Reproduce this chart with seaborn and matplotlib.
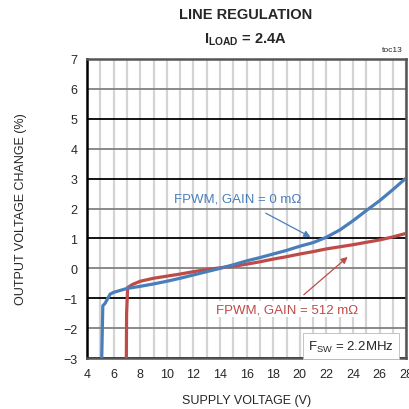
import numpy as np
import pandas as pd
import matplotlib
matplotlib.use("Agg")
import matplotlib.pyplot as plt
import seaborn as sns

# data
vin_gain0 = [5.1, 5.18, 5.35, 5.73, 6.0, 7.0, 8.0, 9.0, 10.0, 11.0, 12.0, 13.0, 14.0, 15.0, 16.0,
             17.0, 18.0, 19.0, 20.0, 21.0, 22.0, 23.0, 24.0, 25.0, 26.0, 27.0, 28.0]
dv_gain0 = [-3.0, -1.25, -1.17, -0.86, -0.80, -0.67, -0.60, -0.52, -0.43, -0.33, -0.22, -0.11, 0.0, 0.12, 0.25,
            0.36, 0.48, 0.60, 0.74, 0.86, 1.04, 1.28, 1.59, 1.93, 2.26, 2.63, 3.02]

vin_gain512 = [6.95, 6.97, 7.05, 7.4, 8.0, 9.0, 10.0, 11.0, 12.0, 13.0, 14.0, 15.0, 16.0, 17.0, 18.0,
               19.0, 20.0, 21.0, 22.0, 23.0, 24.0, 25.0, 26.0, 27.0, 28.0]
dv_gain512 = [-3.0, -1.5, -0.64, -0.54, -0.43, -0.33, -0.26, -0.19, -0.11, -0.04, 0.02, 0.07, 0.14, 0.22, 0.31,
              0.39, 0.48, 0.56, 0.65, 0.72, 0.79, 0.87, 0.95, 1.05, 1.17]

x_ticks = list(range(4, 29, 2))
y_ticks = list(range(-3, 8))

blue = "#4a7ebb"
red = "#be4b48"

sns.set_style("white")
plt.rcParams['font.family'] = ['Liberation Sans Narrow', 'Liberation Sans', 'DejaVu Sans']
plt.rcParams['mathtext.fontset'] = 'custom'
plt.rcParams['mathtext.rm'] = 'Liberation Sans'
plt.rcParams['mathtext.bf'] = 'Liberation Sans:bold'

df0 = pd.DataFrame({'vin': vin_gain0, 'dv': dv_gain0})
df1 = pd.DataFrame({'vin': vin_gain512, 'dv': dv_gain512})

fig = plt.figure(figsize=(4.09, 4.10), dpi=100)
ax = fig.add_axes([0.213, 0.124, 0.780, 0.730])

sns.lineplot(data=df0, x='vin', y='dv', sort=False, color=blue, lw=2.3, ax=ax, zorder=5)
sns.lineplot(data=df1, x='vin', y='dv', sort=False, color=red, lw=2.3, ax=ax, zorder=4)

ax.set_xlim(4, 28)
ax.set_ylim(-3, 7)
ax.set_xticks(x_ticks)
ax.set_xticks(range(4, 29), minor=True)
ax.set_yticks(y_ticks)

# grid: light vertical lines each volt, horizontal alternating gray/black
ax.grid(which='both', axis='x', color='#d4d4d4', lw=1.6)
ax.grid(which='major', axis='y', lw=1.3)
for val, gl in zip(y_ticks, ax.get_ygridlines()):
    gl.set_color('#808080' if val % 2 == 0 else '#000000')
ax.set_axisbelow(True)

for s in ax.spines.values():
    s.set_color('#555555')
    s.set_linewidth(1.8)
ax.spines['left'].set_color('#000000')

ax.tick_params(which='both', length=0, labelsize=9, pad=7)
ax.set_xlabel('SUPPLY VOLTAGE (V)', fontsize=9, labelpad=10)
ax.set_ylabel('OUTPUT VOLTAGE CHANGE (%)', fontsize=9, labelpad=26)

ax.annotate('FPWM, GAIN = 0 m\u03a9', xy=(20.8, 1.05), xytext=(15.3, 2.35),
            color=blue, fontsize=9.5, ha='center', va='center',
            arrowprops=dict(arrowstyle='-|>', color=blue, lw=0.9, shrinkA=9, shrinkB=0))
ax.annotate('FPWM, GAIN = 512 m\u03a9', xy=(23.6, 0.38), xytext=(19.05, -1.36),
            color=red, fontsize=9.5, ha='center', va='center',
            bbox=dict(boxstyle='square,pad=0.15', fc='white', ec='none'),
            arrowprops=dict(arrowstyle='-|>', color=red, lw=0.9, shrinkA=7, shrinkB=0))

ax.text(23.85, -2.6, 'F$_{\\mathrm{SW}}$ = 2.2MHz', fontsize=9.5, ha='center', va='center',
        bbox=dict(boxstyle='square,pad=0.4', fc='white', ec='#bbbbbb', lw=0.6), zorder=6)

fig.text(0.60, 0.963, 'LINE REGULATION', ha='center', va='center', fontsize=10.5, fontweight='bold')
fig.text(0.60, 0.902, '$\\mathbf{I_{LOAD}}$ = 2.4A', ha='center', va='center', fontsize=10.5, fontweight='bold')
fig.text(0.958, 0.878, 'toc13', ha='center', va='center', fontsize=6)

fig.savefig('out.png', dpi=100)
